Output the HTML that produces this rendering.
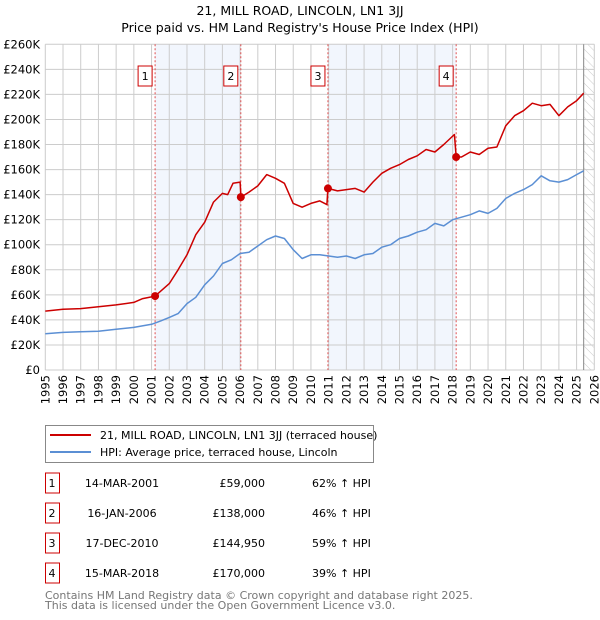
<!DOCTYPE html>
<html><head><meta charset="utf-8"><style>
body{margin:0;background:#fff;font-family:"DejaVu Sans","Liberation Sans",sans-serif;}
svg{display:block}
</style></head><body>
<svg id="c" width="600" height="620" font-family="DejaVu Sans, Liberation Sans, sans-serif">
<text x="300" y="15" text-anchor="middle" font-size="12.5">21, MILL ROAD, LINCOLN, LN1 3JJ</text>
<text x="300" y="32" text-anchor="middle" font-size="12.5">Price paid vs. HM Land Registry's House Price Index (HPI)</text>
<g id="plot"></g>
<g>
<rect x="45.5" y="425.5" width="328" height="37" fill="#fff" stroke="#888"/>
<line x1="50" y1="435" x2="91" y2="435" stroke="#cc0000" stroke-width="2"/>
<text x="100" y="439" font-size="11">21, MILL ROAD, LINCOLN, LN1 3JJ (terraced house)</text>
<line x1="50" y1="452" x2="91" y2="452" stroke="#5b8fd4" stroke-width="2"/>
<text x="100" y="456" font-size="11">HPI: Average price, terraced house, Lincoln</text>
</g>
<g id="tbl" font-size="11"></g>
<text x="45" y="599" font-size="11" fill="#777">Contains HM Land Registry data © Crown copyright and database right 2025.</text>
<text x="45" y="609" font-size="11" fill="#777">This data is licensed under the Open Government Licence v3.0.</text>
</svg>
<script>
const hpiYears=[1995,1996,1997,1998,1999,2000,2001,2001.5,2002,2002.5,2003,2003.5,2004,2004.5,2005,2005.5,2006,2006.5,2007,2007.5,2008,2008.5,2009,2009.5,2010,2010.5,2011,2011.5,2012,2012.5,2013,2013.5,2014,2014.5,2015,2015.5,2016,2016.5,2017,2017.5,2018,2018.5,2019,2019.5,2020,2020.5,2021,2021.5,2022,2022.5,2023,2023.5,2024,2024.5,2025,2025.4];
const hpiValues=[29,30,30.5,31,32.5,34,36.5,39,42,45,53,58,68,75,85,88,93,94,99,104,107,105,96,89,92,92,91,90,91,89,92,93,98,100,105,107,110,112,117,115,120,122,124,127,125,129,137,141,144,148,155,151,150,152,156,159];
const propYears=[1995,1996,1997,1998,1999,2000,2000.5,2001.2,2002,2002.5,2003,2003.5,2004,2004.5,2005,2005.3,2005.6,2006,2006.05,2006.5,2007,2007.5,2008,2008.5,2009,2009.5,2010,2010.5,2010.9,2010.96,2011.5,2012,2012.5,2013,2013.5,2014,2014.5,2015,2015.5,2016,2016.5,2017,2017.5,2018.1,2018.2,2018.5,2019,2019.5,2020,2020.5,2021,2021.5,2022,2022.5,2023,2023.5,2024,2024.5,2025,2025.4];
const propValues=[47,48.5,49,50.5,52,54,57,59,69,80,92,108,118,134,141,140,149,150,138,142,147,156,153,149,133,130,133,135,132,145,143,144,145,142,150,157,161,164,168,171,176,174,180,188,170,170,174,172,177,178,195,203,207,213,211,212,203,210,215,221];
const saleYears=[2001.2,2006.04,2010.96,2018.2];
const saleValues=[59,138,144.95,170];
const saleLabels=["1","2","3","4"];
const saleDates=["14-MAR-2001","16-JAN-2006","17-DEC-2010","15-MAR-2018"];
const salePrices=["£59,000","£138,000","£144,950","£170,000"];
const salePct=["62% ↑ HPI","46% ↑ HPI","59% ↑ HPI","39% ↑ HPI"];
const yTicks=[0,20,40,60,80,100,120,140,160,180,200,220,240,260];
const xTicks=[1995,1996,1997,1998,1999,2000,2001,2002,2003,2004,2005,2006,2007,2008,2009,2010,2011,2012,2013,2014,2015,2016,2017,2018,2019,2020,2021,2022,2023,2024,2025,2026];

const NS="http://www.w3.org/2000/svg";
const X0=45.3,X1=594.3,Y0=370,Y1=44.3;
const x=v=>X0+(v-1995)*(X1-X0)/31;
const y=v=>Y0-v*(Y0-Y1)/260;
const plot=document.getElementById('plot');
function mk(tag,attrs,parent){const e=document.createElementNS(NS,tag);for(const k in attrs)e.setAttribute(k,attrs[k]);(parent||plot).appendChild(e);return e;}
for(let i=0;i<4;i+=2){
  const r=mk('rect',{x:x(saleYears[i]),y:Y1,width:x(saleYears[i+1])-x(saleYears[i]),height:Y0-Y1,fill:'#f2f6fd'});
  
  
}
const defs=mk('defs',{});
const pat=mk('pattern',{id:'h',width:6,height:6,patternUnits:'userSpaceOnUse',patternTransform:'rotate(-45)'},defs);
mk('line',{x1:0,y1:0,x2:0,y2:6,stroke:'#ccc','stroke-width':1},pat);
const hr=mk('rect',{x:x(2025.4),y:Y1,width:X1-x(2025.4),height:Y0-Y1,fill:'url(#h)'});


yTicks.forEach(t=>{
  const l=mk('line',{x1:X0,x2:X1,y1:y(t),y2:y(t),stroke:'#ccc'});
  
  
  const tx=mk('text',{x:40,y:y(t)+4,'text-anchor':'end','font-size':11.5});
  tx.textContent=t===0?'£0':'£'+t+'K';
  
  
});
xTicks.forEach(t=>{
  const l=mk('line',{x1:x(t),x2:x(t),y1:Y1,y2:Y0,stroke:'#ccc'});
  
  
  const tx=mk('text',{transform:`translate(${x(t)+4},${Y0+5}) rotate(-90)`,'text-anchor':'end','font-size':11.5});
  tx.textContent=t;
  
  
});
const ln=mk('line',{x1:x(2025.4),x2:x(2025.4),y1:Y1,y2:Y0,stroke:'#888'});


saleYears.forEach((s,i)=>{
  const l=mk('line',{x1:x(s),x2:x(s),y1:Y1,y2:Y0,stroke:'#e05050','stroke-dasharray':'2,2'});
  
  
  const r=mk('rect',{x:x(s)-17,y:66,width:14,height:20,fill:'#fff',stroke:'#cc0000'});
  
  
  const t=mk('text',{x:x(s)-10,y:80,'text-anchor':'middle','font-size':11});
  t.textContent=saleLabels[i];
  
  
});
function path(xs,vs,col,name){
  const d=xs.map((v,i)=>(i?'L':'M')+x(v).toFixed(1)+','+y(vs[i]).toFixed(1)).join('');
  const p=mk('path',{d:d,fill:'none',stroke:col,'stroke-width':1.5,'stroke-linejoin':'round'});
  
  
}
path(hpiYears,hpiValues,'#5b8fd4','hpi-line');
path(propYears,propValues,'#cc0000','property-price-line');
saleYears.forEach((s,i)=>{
  const c=mk('circle',{cx:x(s),cy:y(saleValues[i]),r:4,fill:'#cc0000'});
  
  
});
const tbl=document.getElementById('tbl');
saleLabels.forEach((lab,i)=>{
  const cy=483+i*30;
  const r=mk('rect',{x:45.5,y:cy-10,width:14,height:20,fill:'#fff',stroke:'#cc0000'},tbl);
  
  
  const cells=[[52,'middle',lab],[122,'middle',saleDates[i]],[265,'end',salePrices[i]],[312,'start',salePct[i]]];
  cells.forEach((c,j)=>{
    const t=mk('text',{x:c[0],y:cy+4,'text-anchor':c[1]},tbl);
    t.textContent=c[2];
    
    
  });
});
</script>
</body></html>
